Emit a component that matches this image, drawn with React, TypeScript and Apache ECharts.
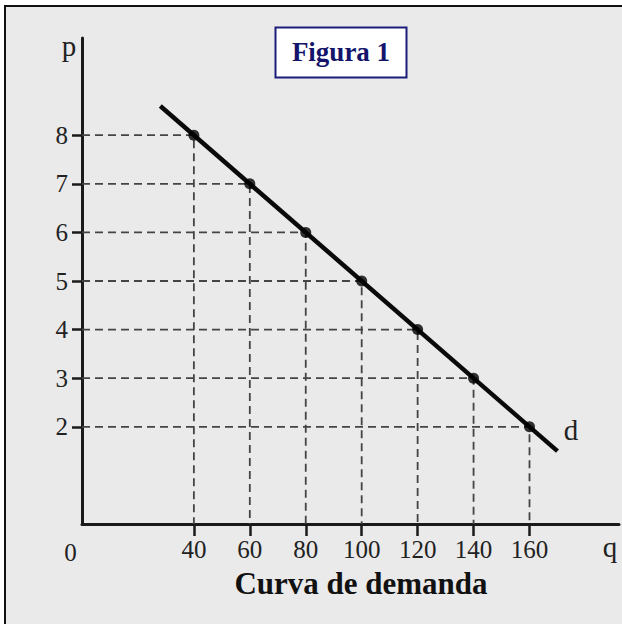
import React, { useEffect, useRef } from "react";
import * as echarts from "echarts";

const quantities = [40, 60, 80, 100, 120, 140, 160];
const prices = [8, 7, 6, 5, 4, 3, 2];
const curveQ = [28, 170];
const curveP = [8.6, 1.5];
const xTickValues = [40, 60, 80, 100, 120, 140, 160];
const yTickValues = [2, 3, 4, 5, 6, 7, 8];

const FONT = "'Liberation Serif', 'Times New Roman', serif";

export default function App() {
  const ref = useRef<HTMLDivElement>(null);
  useEffect(() => {
    if (!ref.current) return;
    const chart = echarts.init(ref.current, undefined, { renderer: "svg" });
    const points = quantities.map((q, i) => [q, prices[i]]);
    const curve = curveQ.map((q, i) => [q, curveP[i]]);
    chart.setOption({
      animation: false,
      backgroundColor: "transparent",
      grid: { left: 82, top: 38, width: 537, bottom: 100, containLabel: false },
      xAxis: {
        type: "value",
        min: 0,
        max: 192,
        splitLine: { show: false },
        axisLine: { show: true, lineStyle: { color: "#1a1a1a", width: 3 } },
        axisTick: {
          show: true,
          customValues: xTickValues,
          length: 12,
          lineStyle: { color: "#1a1a1a", width: 2.5 },
        },
        axisLabel: {
          customValues: xTickValues,
          margin: 13,
          fontSize: 25,
          fontFamily: FONT,
          color: "#222",
        },
      },
      yAxis: {
        type: "value",
        min: 0,
        max: 10,
        splitLine: { show: false },
        axisLine: { show: true, lineStyle: { color: "#1a1a1a", width: 3 } },
        axisTick: {
          show: true,
          customValues: yTickValues,
          length: 10,
          lineStyle: { color: "#1a1a1a", width: 2.5 },
        },
        axisLabel: {
          customValues: yTickValues,
          margin: 14,
          fontSize: 25,
          fontFamily: FONT,
          color: "#222",
        },
      },
      series: [
        {
          type: "custom",
          data: points,
          z: 1,
          renderItem: (params: any, api: any) => {
            const q = api.value(0);
            const p = api.value(1);
            const a = api.coord([0, p]);
            const b = api.coord([q, p]);
            const c = api.coord([q, 0]);
            return {
              type: "polyline",
              shape: { points: [a, b, c] },
              style: { stroke: "#444", lineWidth: 1.8, lineDash: [8, 5], fill: null },
            };
          },
        },
        {
          type: "line",
          data: curve,
          symbol: "none",
          z: 3,
          lineStyle: { color: "#0a0a0a", width: 4.5 },
        },
        {
          type: "scatter",
          data: points,
          symbolSize: 11,
          z: 4,
          itemStyle: { color: "#000" },
        },
      ],
      graphic: [
        {
          type: "rect",
          shape: { x: 275.5, y: 27.5, width: 131, height: 50 },
          style: { fill: "#fff", stroke: "#1c1c7a", lineWidth: 2 },
        },
        {
          type: "text",
          x: 341,
          y: 52,
          style: {
            text: "Figura 1",
            font: `bold 27px ${FONT}`,
            fill: "#14146b",
            align: "center",
            verticalAlign: "middle",
          },
        },
        {
          type: "text",
          x: 361,
          y: 583,
          style: {
            text: "Curva de demanda",
            font: `bold 31px ${FONT}`,
            fill: "#111",
            align: "center",
            verticalAlign: "middle",
          },
        },
        {
          type: "text",
          x: 69,
          y: 46,
          style: { text: "p", font: `29px ${FONT}`, fill: "#222", align: "center", verticalAlign: "middle" },
        },
        {
          type: "text",
          x: 610,
          y: 547,
          style: { text: "q", font: `29px ${FONT}`, fill: "#222", align: "center", verticalAlign: "middle" },
        },
        {
          type: "text",
          x: 571,
          y: 430,
          style: { text: "d", font: `29px ${FONT}`, fill: "#222", align: "center", verticalAlign: "middle" },
        },
        {
          type: "text",
          x: 70.5,
          y: 552,
          style: { text: "0", font: `25px ${FONT}`, fill: "#222", align: "center", verticalAlign: "middle" },
        },
      ],
    });
    return () => chart.dispose();
  }, []);

  return (
    <div style={{ position: "fixed", left: 0, top: 0, width: 622, height: 624, background: "#fff", overflow: "hidden" }}>
      <div
        style={{
          position: "absolute",
          left: 4,
          top: 5,
          width: 700,
          height: 700,
          background: "#eaeaea",
          borderTop: "2px solid #111",
          borderLeft: "2px solid #111",
        }}
      />
      <div ref={ref} style={{ position: "absolute", left: 0, top: 0, width: 622, height: 624 }} />
    </div>
  );
}
